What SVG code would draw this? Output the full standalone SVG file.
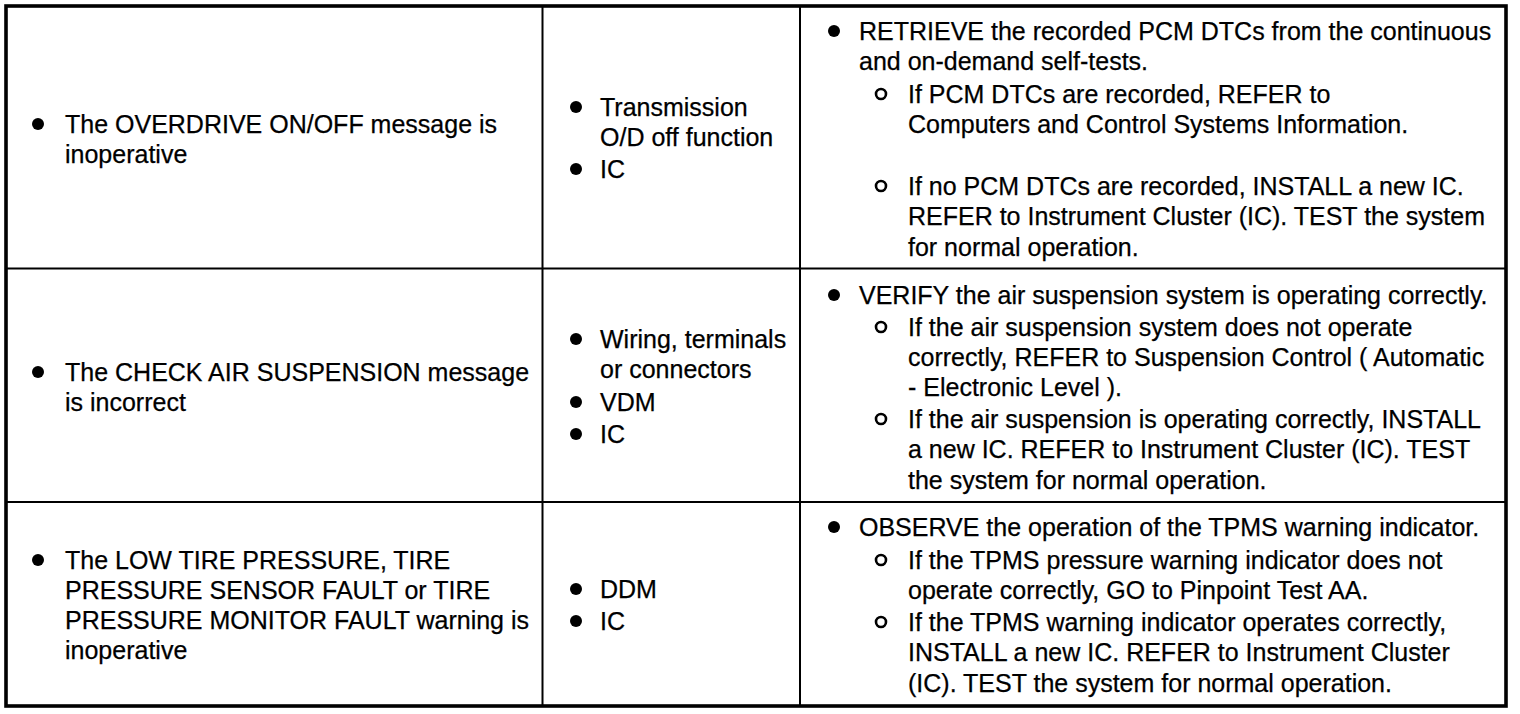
<svg xmlns="http://www.w3.org/2000/svg" width="1520" height="714" viewBox="0 0 1520 714">
<style>
text{font-family:"Liberation Sans",Arial,Helvetica,sans-serif;font-size:25px;fill:#000;stroke:#000;stroke-width:0.25}
.b{fill:#000}
.o{fill:none;stroke:#000;stroke-width:2.6}
.grid{stroke:#000;stroke-width:2;fill:none}
.frame{stroke:#000;stroke-width:3.6;fill:none}
</style>
<rect width="1520" height="714" fill="#fff"/>
<g id="grid">
<rect class="frame" x="6" y="6" width="1500" height="700"/>
<line class="grid" x1="6" y1="268.5" x2="1506" y2="268.5"/>
<line class="grid" x1="6" y1="502" x2="1506" y2="502"/>
<line class="grid" x1="542.5" y1="6" x2="542.5" y2="706"/>
<line class="grid" x1="800" y1="6" x2="800" y2="706"/>
</g>
<g id="row1-symptom">
<circle class="b" cx="38" cy="124" r="6"/>
<text x="65" y="133">The OVERDRIVE ON/OFF message is</text>
<text x="65" y="163">inoperative</text>
</g>
<g id="row1-cause">
<circle class="b" cx="576" cy="107" r="6"/>
<text x="600" y="116">Transmission</text>
<text x="600" y="146">O/D off function</text>
<circle class="b" cx="576" cy="169" r="6"/>
<text x="600" y="178">IC</text>
</g>
<g id="row1-action">
<circle class="b" cx="834" cy="31" r="6"/>
<text x="859" y="40">RETRIEVE the recorded PCM DTCs from the continuous</text>
<text x="859" y="70">and on-demand self-tests.</text>
<circle class="o" cx="881" cy="94" r="5"/>
<text x="908" y="103">If PCM DTCs are recorded, REFER to</text>
<text x="908" y="133">Computers and Control Systems Information.</text>
<circle class="o" cx="881" cy="186" r="5"/>
<text x="908" y="195">If no PCM DTCs are recorded, INSTALL a new IC.</text>
<text x="908" y="225">REFER to Instrument Cluster (IC). TEST the system</text>
<text x="908" y="256">for normal operation.</text>
</g>
<g id="row2-symptom">
<circle class="b" cx="38" cy="372" r="6"/>
<text x="65" y="381">The CHECK AIR SUSPENSION message</text>
<text x="65" y="411">is incorrect</text>
</g>
<g id="row2-cause">
<circle class="b" cx="576" cy="339" r="6"/>
<text x="600" y="348">Wiring, terminals</text>
<text x="600" y="378">or connectors</text>
<circle class="b" cx="576" cy="402" r="6"/>
<text x="600" y="411">VDM</text>
<circle class="b" cx="576" cy="434" r="6"/>
<text x="600" y="443">IC</text>
</g>
<g id="row2-action">
<circle class="b" cx="834" cy="295" r="6"/>
<text x="859" y="304">VERIFY the air suspension system is operating correctly.</text>
<circle class="o" cx="881" cy="327" r="5"/>
<text x="908" y="336">If the air suspension system does not operate</text>
<text x="908" y="366">correctly, REFER to Suspension Control ( Automatic</text>
<text x="908" y="396">- Electronic Level ).</text>
<circle class="o" cx="881" cy="419" r="5"/>
<text x="908" y="428">If the air suspension is operating correctly, INSTALL</text>
<text x="908" y="458">a new IC. REFER to Instrument Cluster (IC). TEST</text>
<text x="908" y="489">the system for normal operation.</text>
</g>
<g id="row3-symptom">
<circle class="b" cx="38" cy="560" r="6"/>
<text x="65" y="569">The LOW TIRE PRESSURE, TIRE</text>
<text x="65" y="599">PRESSURE SENSOR FAULT or TIRE</text>
<text x="65" y="629">PRESSURE MONITOR FAULT warning is</text>
<text x="65" y="659">inoperative</text>
</g>
<g id="row3-cause">
<circle class="b" cx="576" cy="589" r="6"/>
<text x="600" y="598">DDM</text>
<circle class="b" cx="576" cy="621" r="6"/>
<text x="600" y="630">IC</text>
</g>
<g id="row3-action">
<circle class="b" cx="834" cy="527" r="6"/>
<text x="859" y="536">OBSERVE the operation of the TPMS warning indicator.</text>
<circle class="o" cx="881" cy="560" r="5"/>
<text x="908" y="569">If the TPMS pressure warning indicator does not</text>
<text x="908" y="599">operate correctly, GO to Pinpoint Test AA.</text>
<circle class="o" cx="881" cy="622" r="5"/>
<text x="908" y="631">If the TPMS warning indicator operates correctly,</text>
<text x="908" y="661">INSTALL a new IC. REFER to Instrument Cluster</text>
<text x="908" y="692">(IC). TEST the system for normal operation.</text>
</g>
</svg>
